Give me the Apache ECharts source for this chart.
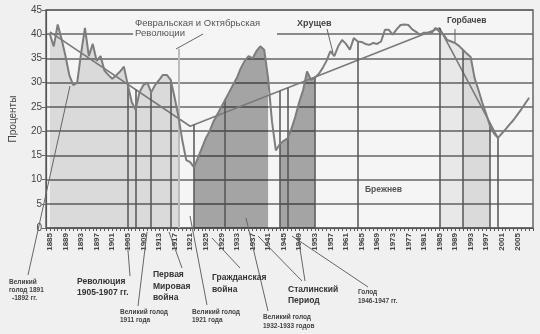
<!DOCTYPE html>
<html><head><meta charset="utf-8">
<script src="https://cdn.jsdelivr.net/npm/echarts@6/dist/echarts.min.js"></script>
<style>html,body{margin:0;padding:0;background:#f0f0f0}#c{width:540px;height:334px}</style>
</head><body><div id="c"></div>
<script>
// ---- data ----
const years = [1885,1886,1887,1888,1889,1890,1891,1892,1893,1894,1895,1896,1897,1898,1899,
1900,1901,1902,1903,1904,1905,1906,1907,1908,1909,1910,1911,1912,1913,1914,1915,1916,1917,1918,1919,
1920,1921,1922,1923,1924,1925,1926,1927,1928,1929,1930,1931,1932,1933,1934,1935,1936,1937,1938,1939,
1940,1941,1942,1943,1944,1945,1946,1947,1948,1949,1950,1951,1952,1953,1954,1955,1956,1957,1958,1959,
1960,1961,1962,1963,1964,1965,1966,1967,1968,1969,1970,1971,1972,1973,1974,1975,1976,1977,1978,1979,
1980,1981,1982,1983,1984,1985,1986,1987,1988,1989,1990,1991,1992,1993,1994,1995,1996,1997,1998,1999,
2000,2001,2002,2003,2004,2005,2006,2007,2008];
const rate = [40,37.5,42,39,35.5,31.5,29.5,30,36,41.3,35.5,38,34.5,35.5,32.5,
31.6,30.8,31.5,32.3,33.3,29.5,26,24.4,28,29.5,30,28,29.5,30.5,31.6,31.6,30.6,27,23,18,
14,13.6,12.5,14.5,16.5,18.5,20,22,23.5,25,26.5,28,29.5,31,33,34.5,35.5,35,36.5,37.5,
36.8,31,22,16,17.3,18,18.5,20.5,23,26,28.5,32.3,30.6,31,31.8,33,34.5,36.5,35.5,37.5,
38.8,38,36.8,39.2,38.5,38.4,38,37.8,38.2,38,38.5,40.9,40.9,39.9,41,41.9,42,41.9,41,40.5,
39.9,40.3,40.3,40.3,41.3,40.5,40,38.8,38.5,38.2,37.6,36.8,36,35.3,31,28.5,25.8,23.5,21,19.5,
18.6,19.5,20.4,21.4,22.3,23.4,24.5,25.7,26.9];
const trendYears = [1885, 1921, 1985, 2000];
const trendValues = [40.5, 21, 41.3, 18.6];
const lightPeriods = [[1885, 1918], [1991, 1998]];
const faintPeriods = [[1985, 1991]];
const darkPeriods = [[1922, 1941], [1944, 1953]];
const eventYears = [1905, 1907, 1911, 1916, 1922, 1930, 1944, 1946, 1953, 1964, 1985, 1991, 1998, 2000];
const revolutionMark = [1918, 37];
const firstLabelYear = 1885, lastLabelYear = 2005, labelStep = 4;
const yTicks = [0, 45, 5];

// ---- helpers ----
const pts = years.map((y, i) => [y, rate[i]]);
function curveAt(y) { const i = years.indexOf(y); return i >= 0 ? rate[i] : 0; }
function trendAt(y) {
  for (let i = 0; i < trendYears.length - 1; i++) {
    const a = trendYears[i], b = trendYears[i + 1];
    if (y >= a && y <= b) return trendValues[i] + (trendValues[i + 1] - trendValues[i]) * (y - a) / (b - a);
  }
  return 0;
}
function fillSeries(periods, color) {
  return periods.map(p => ({
    type: 'line', silent: true, symbol: 'none', animation: false, z: 1,
    data: pts.filter(d => d[0] >= p[0] && d[0] <= p[1]),
    lineStyle: { width: 0 }, areaStyle: { color: color, opacity: 1 }
  }));
}

const chart = echarts.init(document.getElementById('c'), null, { renderer: 'canvas' });
const FF = '"Liberation Sans", Arial, sans-serif';
const T = (x, y, text, fs, bold, color) => ({
  type: 'text', x: x, y: y, silent: true, z: 100,
  style: { text: text, fontSize: fs, fontWeight: bold ? 'bold' : 'normal', fill: color || '#444',
           fontFamily: FF, textVerticalAlign: 'middle', verticalAlign: 'middle', lineHeight: fs + 2 }
});
const L = (pts2) => ({
  type: 'polyline', silent: true, z: 99,
  shape: { points: pts2 }, style: { stroke: '#666', lineWidth: 1, fill: null }
});

const option = {
  animation: false,
  backgroundColor: '#f0f0f0',
  textStyle: { fontFamily: FF },
  grid: { left: 42, right: 7, top: 10, bottom: 106, show: true, backgroundColor: '#f5f5f5',
          borderColor: '#666', borderWidth: 1.5 },
  xAxis: {
    type: 'value', min: 1884, max: 2009, interval: 1,
    axisLine: { show: true, lineStyle: { color: '#555', width: 1.2 } },
    axisTick: { show: true, length: 3, lineStyle: { color: '#555' } },
    axisLabel: { rotate: 90, fontSize: 8, fontWeight: 'bold', color: '#444', margin: 5,
      formatter: v => ((v - firstLabelYear) % labelStep === 0 && v <= lastLabelYear ? String(v) : '') },
    splitLine: { show: false }
  },
  yAxis: {
    type: 'value', min: yTicks[0], max: yTicks[1], interval: yTicks[2],
    name: 'Проценты', nameLocation: 'middle', nameGap: 28,
    nameTextStyle: { fontSize: 10, color: '#444' },
    axisLine: { show: true, lineStyle: { color: '#555', width: 1.2 } },
    axisTick: { show: true, length: 4, lineStyle: { color: '#666' } },
    axisLabel: { fontSize: 10, color: '#444', margin: 4 },
    splitLine: { show: true, lineStyle: { color: '#666', width: 1.5 } }
  },
  series: [
    ...fillSeries(lightPeriods, 'rgba(0,0,0,0.11)'),
    ...fillSeries(faintPeriods, 'rgba(0,0,0,0.05)'),
    ...fillSeries(darkPeriods, 'rgba(0,0,0,0.33)'),
    {
      type: 'line', data: [], silent: true, z: 3,
      markLine: {
        silent: true, symbol: ['none', 'none'], animation: false, label: { show: false },
        lineStyle: { color: '#555', width: 1.5, type: 'solid' },
        data: eventYears.map(y => [{ coord: [y, 0] }, { coord: [y, Math.max(curveAt(y), trendAt(y))] }])
          .concat([[{ coord: [revolutionMark[0], 0], lineStyle: { color: '#bbb', width: 2 } },
                    { coord: revolutionMark }]])
      }
    },
    {
      type: 'line', symbol: 'none', silent: true, z: 4,
      data: trendYears.map((y, i) => [y, trendValues[i]]),
      lineStyle: { color: '#7a7a7a', width: 1.6 }
    },
    {
      type: 'line', symbol: 'none', silent: true, z: 5,
      data: pts,
      lineStyle: { color: '#7d7d7d', width: 2 }
    }
  ],
  graphic: [
    { type: 'rect', shape: { x: 133, y: 13, width: 144, height: 26 }, style: { fill: '#f5f5f5' }, z: 98, silent: true },
    T(135, 23, 'Февральская и Октябрьская', 9.5, false, '#555'),
    T(135, 33, 'Революции', 9.5, false, '#555'),
    L([[203, 34], [176, 49]]),
    T(297, 24, 'Хрущев', 9, true, '#444'),
    L([[327, 29], [333, 53]]),
    T(447, 21, 'Горбачев', 8.5, true, '#444'),
    L([[455, 29], [455, 42]]),
    T(365, 190, 'Брежнев', 8.5, true, '#555'),
    // bottom annotations
    T(9, 282, 'Великий', 6.5, true, '#444'),
    T(9, 290, 'голод 1891', 6.5, true, '#444'),
    T(12, 298, '-1892 гг.', 6.5, true, '#444'),
    L([[28, 275], [70, 86]]),
    T(77, 282, 'Революция', 8.5, true, '#333'),
    T(77, 293, '1905-1907 гг.', 8.5, true, '#333'),
    L([[130, 276], [127, 238]]),
    T(120, 312, 'Великий голод', 6.5, true, '#444'),
    T(120, 320, '1911 года', 6.5, true, '#444'),
    L([[138, 306], [147, 232]]),
    T(153, 275, 'Первая', 8.5, true, '#333'),
    T(153, 287, 'Мировая', 8.5, true, '#333'),
    T(153, 298, 'война', 8.5, true, '#333'),
    L([[182, 268], [169, 232]]),
    T(192, 312, 'Великий голод', 6.5, true, '#444'),
    T(192, 320, '1921 года', 6.5, true, '#444'),
    L([[207, 305], [190, 216]]),
    T(212, 278, 'Гражданская', 8.5, true, '#333'),
    T(212, 290, 'война', 8.5, true, '#333'),
    L([[240, 268], [212, 238]]),
    T(263, 317, 'Великий голод', 6.5, true, '#444'),
    T(263, 326, '1932-1933 годов', 6.5, true, '#444'),
    L([[268, 311], [246, 218]]),
    T(288, 290, 'Сталинский', 8.5, true, '#333'),
    T(288, 301, 'Период', 8.5, true, '#333'),
    L([[302, 281], [258, 236]]),
    L([[305, 281], [298, 236]]),
    T(358, 292, 'Голод', 6.5, true, '#444'),
    T(358, 301, '1946-1947 гг.', 6.5, true, '#444'),
    L([[368, 287], [292, 236]])
  ]
};
chart.setOption(option);
</script>
</body></html>
